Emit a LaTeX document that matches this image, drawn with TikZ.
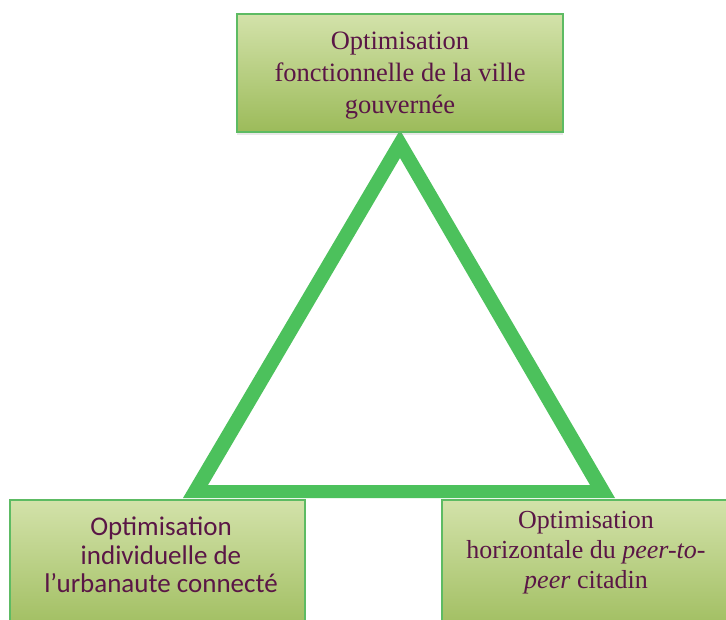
\documentclass[tikz,border=0pt]{standalone}
\usepackage{fontspec}
\setmainfont{Liberation Serif}
\newfontfamily\sanslabel{Carlito}
\usetikzlibrary{shadows}
\definecolor{boxtop}{HTML}{D3E2AA}
\definecolor{boxbot}{HTML}{9CBB5A}
\definecolor{boxline}{HTML}{5DBB63}
\definecolor{labelink}{HTML}{5A1646}
\definecolor{trigreen}{HTML}{4CC15C}
\begin{document}
\begin{tikzpicture}[x=1pt,y=-1pt,
  box/.style={draw=boxline, line width=1.5pt, top color=boxtop, bottom color=boxbot,
    inner sep=0pt, drop shadow={shadow xshift=0pt, shadow yshift=-3pt, opacity=0.18}},
  boxlabel/.style={text=labelink, align=center, inner sep=0pt,
    font=\fontsize{26.5}{32}\selectfont}]
\useasboundingbox (0,0) rectangle (726,619);
\clip (0,0) rectangle (726,619);

% the triangle linking the three kinds of optimisation
\fill[trigreen, even odd rule]
  (400,130) -- (615,498) -- (183,498) -- cycle
  (400,158) -- (590,485) -- (208,485) -- cycle;

% boxes
\node[box, minimum width=326, minimum height=118] (topbox) at (400,73) {};
\node[box, minimum width=295, minimum height=140] (leftbox) at (157.5,570) {};
\node[box, minimum width=298, minimum height=140] (rightbox) at (591,570) {};

% labels
\node[boxlabel] (toptext) at (400,76)
  {Optimisation\\fonctionnelle de la ville\\gouvernée};
\node[boxlabel, font=\sanslabel\fontsize{27}{28.5}\selectfont] (lefttext) at (161,555)
  {Optimisation\\individuelle de\\l’urbanaute connecté};
\node[boxlabel, font=\fontsize{26}{30}\selectfont] (righttext) at (586,553)
  {Optimisation\\horizontale du \textit{peer-to-}\\\textit{peer} citadin};
\end{tikzpicture}
\end{document}
